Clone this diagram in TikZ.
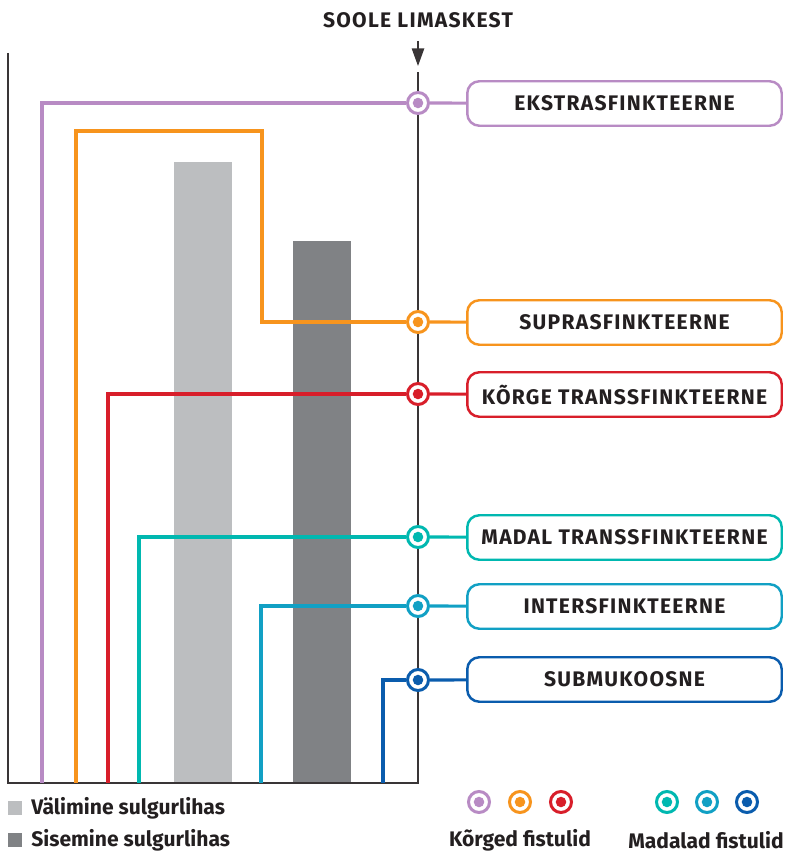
\documentclass[tikz,border=0pt]{standalone}
\usepackage{fontspec}
\setmainfont{Fira Sans}
\usetikzlibrary{arrows.meta, calc}
\definecolor{ekstra}{HTML}{B88BC4}
\definecolor{supra}{HTML}{F7941D}
\definecolor{korge}{HTML}{D81E2A}
\definecolor{madal}{HTML}{00B8B0}
\definecolor{inter}{HTML}{11A0C4}
\definecolor{submuk}{HTML}{0A5CAD}
\definecolor{outermuscle}{HTML}{BCBEC0}
\definecolor{innermuscle}{HTML}{808285}
\definecolor{ink}{HTML}{231F20}
\tikzset{
    wall/.style={draw=ink!90, line width=0.9pt},
    fistel/.style={line width=1.8pt, #1},
    ring/.style={circle, draw=#1, fill=white, line width=1.7pt, minimum size=0.42cm, inner sep=0pt,
        path picture={\fill[#1] (path picture bounding box.center) circle (3pt);}},
    tag/.style={draw=#1, line width=1.4pt, rounded corners=0.24cm, fill=white,
        minimum width=6.29cm, minimum height=0.89cm, inner sep=0pt, text=ink,
        font=\bfseries\large\addfontfeature{LetterSpace=6}},
    legendtext/.style={font=\bfseries\large, text=ink, inner sep=0pt}
}

\begin{document}
\begin{tikzpicture}[x=0.02cm, y=-0.02cm]
    \useasboundingbox (0,0) rectangle (786,858);
    % lihased
    \fill[outermuscle] (174,162) rectangle (232,783);
    \fill[innermuscle] (293,241) rectangle (351,783);
    % sein ja limaskest
    \coordinate (top) at (8,53);
    \coordinate (corner) at (8,783);
    \coordinate (base) at (418,783);
    \coordinate (mucosa) at (418,72);
    \draw[wall] (top) -- (corner) -- (base) -- (mucosa);
    \node[font=\bfseries\large\addfontfeature{LetterSpace=6}, text=ink] (title) at (418,20) {SOOLE LIMASKEST};
    \draw[wall, -{Triangle[length=10pt, width=7pt]}] (418,41) coordinate (arrowstart) -- (418,66) coordinate (arrowend);

    % fistulid
    \node[ring=ekstra] (r1) at (418,103) {};
    \node[tag=ekstra] (t1) at (624.5,103.5) {EKSTRASFINKTEERNE};
    \draw[fistel=ekstra] (42,783) |- (r1); \draw[fistel=ekstra] (r1) -- (t1);

    \node[ring=supra] (r2) at (418,322) {};
    \node[tag=supra] (t2) at (624.5,322.5) {SUPRASFINKTEERNE};
    \draw[fistel=supra] (76,783) |- (262,131) |- (r2); \draw[fistel=supra] (r2) -- (t2);

    \node[ring=korge] (r3) at (418,394) {};
    \node[tag=korge] (t3) at (624.5,394.5) {KÕRGE TRANSSFINKTEERNE};
    \draw[fistel=korge] (108,783) |- (r3); \draw[fistel=korge] (r3) -- (t3);

    \node[ring=madal] (r4) at (418,537) {};
    \node[tag=madal] (t4) at (624.5,537.5) {MADAL TRANSSFINKTEERNE};
    \draw[fistel=madal] (139,783) |- (r4); \draw[fistel=madal] (r4) -- (t4);

    \node[ring=inter] (r5) at (418,606) {};
    \node[tag=inter] (t5) at (624.5,606.5) {INTERSFINKTEERNE};
    \draw[fistel=inter] (261,783) |- (r5); \draw[fistel=inter] (r5) -- (t5);

    \node[ring=submuk] (r6) at (418,680) {};
    \node[tag=submuk] (t6) at (624.5,679.5) {SUBMUKOOSNE};
    \draw[fistel=submuk] (383,783) |- (r6); \draw[fistel=submuk] (r6) -- (t6);

    % legend
    \fill[outermuscle] (8,801) rectangle (22,815);
    \fill[innermuscle] (8,833) rectangle (22,847);
    \node[legendtext, anchor=west] (outerlabel) at (31,808) {Välimine sulgurlihas};
    \node[legendtext, anchor=west] (innerlabel) at (31,840) {Sisemine sulgurlihas};

    \node[ring=ekstra] (l1) at (479,802) {};
    \node[ring=supra] (l2) at (520,802) {};
    \node[ring=korge] (l3) at (561,802) {};
    \node[ring=madal] (l4) at (667,802) {};
    \node[ring=inter] (l5) at (707,802) {};
    \node[ring=submuk] (l6) at (747,802) {};
    \node[legendtext] (highlabel) at (520,840) {Kõrged fistulid};
    \node[legendtext] (lowlabel) at (706,840) {Madalad fistulid};
\end{tikzpicture}
\end{document}
